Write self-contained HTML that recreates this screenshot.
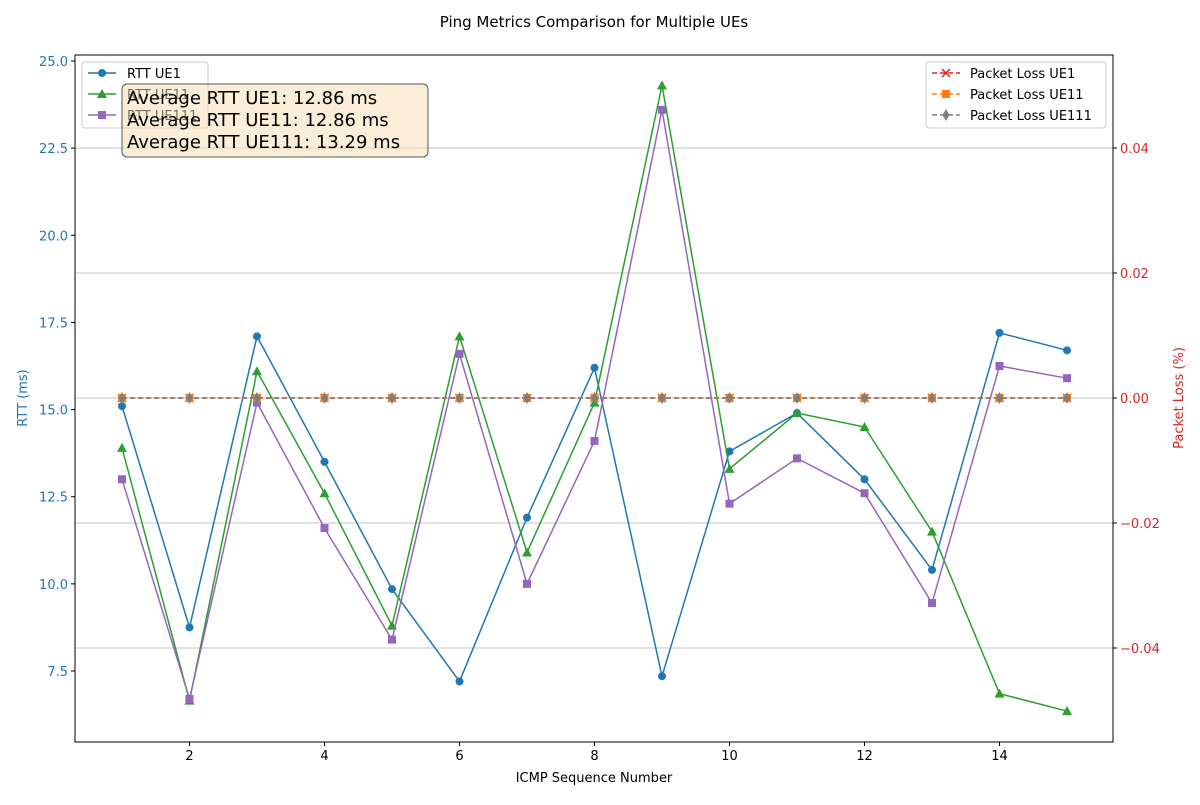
<!DOCTYPE html>
<html><head><meta charset="utf-8"><style>
body{margin:0;background:#fff;font-family:"Liberation Sans","DejaVu Sans",sans-serif}
svg text{font-family:"DejaVu Sans","Liberation Sans",sans-serif}
</style></head><body>
<svg id="c" width="1200" height="800">
<text x="594" y="27" font-size="15" text-anchor="middle">Ping Metrics Comparison for Multiple UEs</text>
<g id="grid"></g><g id="series"></g><g id="axes"></g>
</svg>
<script>
const seq=[1,2,3,4,5,6,7,8,9,10,11,12,13,14,15];
const rttUE1=[15.1,8.75,17.1,13.5,9.85,7.2,11.9,16.2,7.35,13.8,14.9,13.0,10.4,17.2,16.7];
const rttUE11=[13.9,6.65,16.1,12.6,8.8,17.1,10.9,15.2,24.3,13.3,14.9,14.5,11.5,6.85,6.35];
const rttUE111=[13.0,6.7,15.2,11.6,8.4,16.6,10.0,14.1,23.6,12.3,13.6,12.6,9.45,16.25,15.9];
const lossUE1=[0,0,0,0,0,0,0,0,0,0,0,0,0,0,0];
const lossUE11=[0,0,0,0,0,0,0,0,0,0,0,0,0,0,0];
const lossUE111=[0,0,0,0,0,0,0,0,0,0,0,0,0,0,0];
const xTicks=[2,4,6,8,10,12,14];
const yTicks=[7.5,10.0,12.5,15.0,17.5,20.0,22.5,25.0];
const y2Ticks=[-0.04,-0.02,0.00,0.02,0.04];

const L=75,R=1113,T=55,B=742;
const X=v=>189.5+(v-2)*67.5;
const Y=v=>61+(25-v)*34.857;
const Y2=v=>398-v*6250;
const NS="http://www.w3.org/2000/svg";
function mk(tag,attrs,parent,text){const e=document.createElementNS(NS,tag);for(const k in attrs)e.setAttribute(k,attrs[k]);if(text!==undefined)e.textContent=text;parent.appendChild(e);return e;}
const svg=document.getElementById('c'),grid=document.getElementById('grid'),ser=document.getElementById('series'),ax=document.getElementById('axes');

y2Ticks.forEach(v=>{const g=mk('line',{x1:L,x2:R,y1:Y2(v),y2:Y2(v),stroke:'#b0b0b0','stroke-width':0.8},grid);

});

function marker(type,x,y,color,p){
 let e;
 if(type==='o')e=mk('circle',{cx:x,cy:y,r:4,fill:color},p);
 else if(type==='^')e=mk('polygon',{points:`${x},${y-5} ${x-5},${y+4} ${x+5},${y+4}`,fill:color},p);
 else if(type==='s')e=mk('rect',{x:x-4,y:y-4,width:8,height:8,fill:color},p);
 else if(type==='x'){e=mk('path',{d:`M${x-4},${y-4}L${x+4},${y+4}M${x-4},${y+4}L${x+4},${y-4}`,stroke:color,'stroke-width':1.5},p);}
 else if(type==='d')e=mk('polygon',{points:`${x},${y-6} ${x-3.5},${y} ${x},${y+6} ${x+3.5},${y}`,fill:color},p);
 return e;
}
function series(vals,yf,color,m,name,dash){
 const g=mk('g',{},ser);
 
 
 const pts=vals.map((v,i)=>X(seq[i])+','+yf(v)).join(' ');
 const a={points:pts,fill:'none',stroke:color,'stroke-width':1.5};if(dash)a['stroke-dasharray']=dash;
 mk('polyline',a,g);
 vals.forEach((v,i)=>{const e=marker(m,X(seq[i]),yf(v),color,g);
 
 });
}
series(rttUE1,Y,'#1f77b4','o','rtt-ue1-line');
series(rttUE11,Y,'#2ca02c','^','rtt-ue11-line');
series(rttUE111,Y,'#9467bd','s','rtt-ue111-line');
series(lossUE1,Y2,'#d62728','x','loss-ue1-line','5,3');
series(lossUE11,Y2,'#ff7f0e','s','loss-ue11-line','5,3');
series(lossUE111,Y2,'#7f7f7f','d','loss-ue111-line','5,3');

mk('rect',{x:L,y:T,width:R-L,height:B-T,fill:'none',stroke:'#000','stroke-width':1},ax);
xTicks.forEach(v=>{mk('line',{x1:X(v),x2:X(v),y1:B,y2:B+4,stroke:'#000'},ax);
const t=mk('text',{x:X(v),y:B+18,'font-size':13,'text-anchor':'middle'},ax,v);

});
yTicks.forEach(v=>{mk('line',{x1:L-4,x2:L,y1:Y(v),y2:Y(v),stroke:'#000'},ax);
const t=mk('text',{x:L-7,y:Y(v)+5,'font-size':13,'text-anchor':'end',fill:'#1f77b4'},ax,v.toFixed(1));

});
y2Ticks.forEach(v=>{mk('line',{x1:R,x2:R+4,y1:Y2(v),y2:Y2(v),stroke:'#000'},ax);
const t=mk('text',{x:R+7,y:Y2(v)+5,'font-size':13,fill:'#d62728'},ax,(v<0?'\u2212':'')+Math.abs(v).toFixed(2));

});
</script>
<svg width="1200" height="800" style="position:absolute;left:0;top:0">
<text x="594" y="782" font-size="13" text-anchor="middle" font-family="DejaVu Sans">ICMP Sequence Number</text>
<text transform="translate(27,398) rotate(-90)" font-size="13" text-anchor="middle" fill="#1f77b4" font-family="DejaVu Sans">RTT (ms)</text>
<text transform="translate(1183,398) rotate(-90)" font-size="13" text-anchor="middle" fill="#d62728" font-family="DejaVu Sans">Packet Loss (%)</text>
<g font-family="DejaVu Sans" font-size="13">
<rect x="82" y="62" width="126" height="66" rx="3" fill="#fff" fill-opacity="0.8" stroke="#ccc"/>
<line x1="88" x2="116" y1="73" y2="73" stroke="#1f77b4" stroke-width="1.5"/><circle cx="102" cy="73" r="4" fill="#1f77b4"/><text x="127" y="78">RTT UE1</text>
<line x1="88" x2="116" y1="94" y2="94" stroke="#2ca02c" stroke-width="1.5"/><polygon points="102,89 97,98 107,98" fill="#2ca02c"/><text x="127" y="99">RTT UE11</text>
<line x1="88" x2="116" y1="115" y2="115" stroke="#9467bd" stroke-width="1.5"/><rect x="98" y="111" width="8" height="8" fill="#9467bd"/><text x="127" y="120">RTT UE111</text>
</g>
<g font-family="DejaVu Sans" font-size="18">
<rect x="122" y="84" width="306" height="73" rx="5" fill="#f5deb3" fill-opacity="0.5" stroke="#555"/>
<text x="127" y="104">Average RTT UE1: 12.86 ms</text>
<text x="127" y="126">Average RTT UE11: 12.86 ms</text>
<text x="127" y="148">Average RTT UE111: 13.29 ms</text>
</g>
<g font-family="DejaVu Sans" font-size="13">
<rect x="926" y="62" width="180" height="66" rx="3" fill="#fff" fill-opacity="0.8" stroke="#ccc"/>
<line x1="932" x2="960" y1="73" y2="73" stroke="#d62728" stroke-width="1.5" stroke-dasharray="5,3"/><path d="M942,69L950,77M942,77L950,69" stroke="#d62728" stroke-width="1.5"/><text x="970" y="78">Packet Loss UE1</text>
<line x1="932" x2="960" y1="94" y2="94" stroke="#ff7f0e" stroke-width="1.5" stroke-dasharray="5,3"/><rect x="942" y="90" width="8" height="8" fill="#ff7f0e"/><text x="970" y="99">Packet Loss UE11</text>
<line x1="932" x2="960" y1="115" y2="115" stroke="#7f7f7f" stroke-width="1.5" stroke-dasharray="5,3"/><polygon points="946,109 942.5,115 946,121 949.5,115" fill="#7f7f7f"/><text x="970" y="120">Packet Loss UE111</text>
</g>
</svg>
</body></html>
